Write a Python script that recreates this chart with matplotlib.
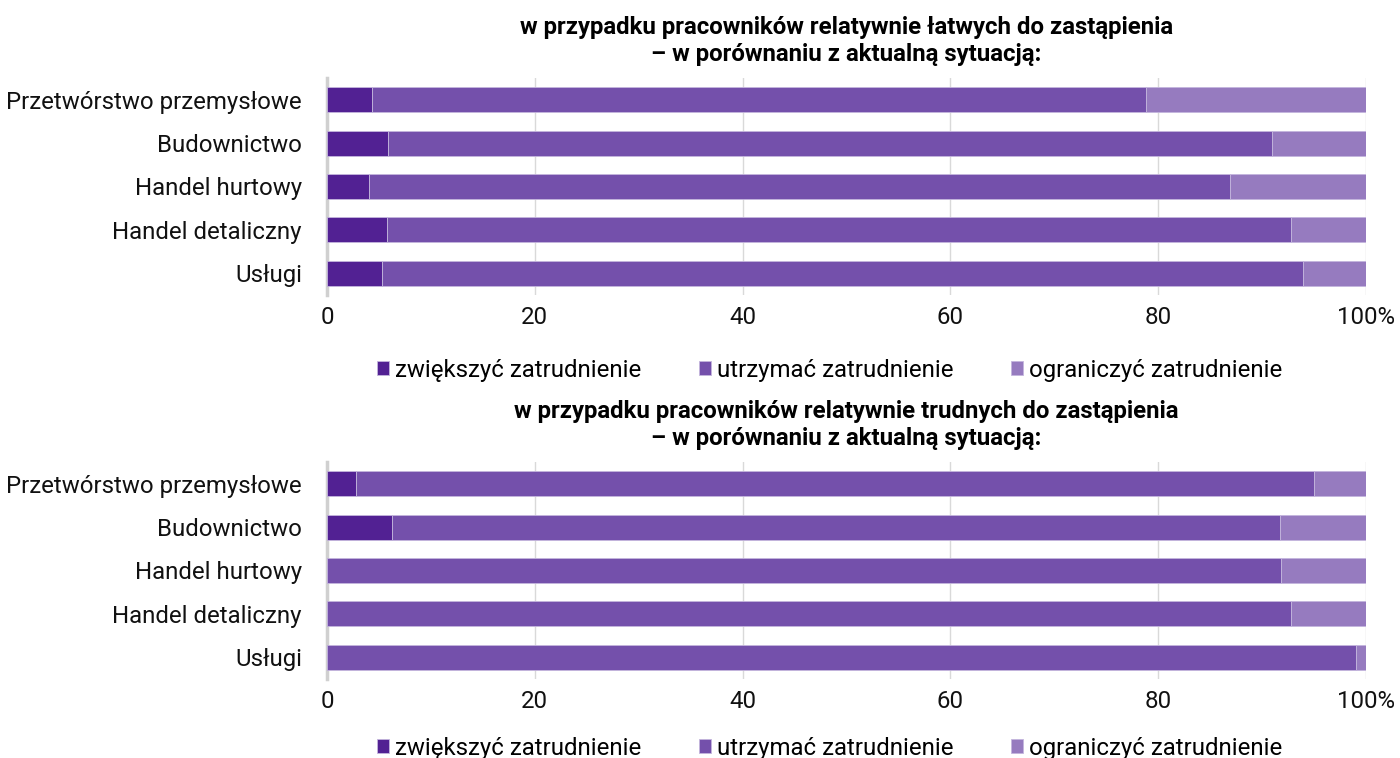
import matplotlib.pyplot as plt
import numpy as np

plt.rcParams['font.family'] = ['Roboto', 'DejaVu Sans']

# Dane
sektory = ['Przetwórstwo przemysłowe', 'Budownictwo', 'Handel hurtowy', 'Handel detaliczny', 'Usługi']
serie = ['zwiększyć zatrudnienie', 'utrzymać zatrudnienie', 'ograniczyć zatrudnienie']

# pracownicy latwi do zastapienia
latwi_zwiekszyc = [4.3, 5.9, 4.0, 5.8, 5.3]
latwi_utrzymac = [74.5, 85.1, 82.9, 87.0, 88.6]
latwi_ograniczyc = [21.2, 9.0, 13.1, 7.2, 6.1]

# pracownicy trudni do zastapienia
trudni_zwiekszyc = [2.8, 6.3, 0.0, 0.0, 0.0]
trudni_utrzymac = [92.2, 85.4, 91.8, 92.8, 99.0]
trudni_ograniczyc = [5.0, 8.3, 8.2, 7.2, 1.0]

tytuly = ['w przypadku pracowników relatywnie łatwych do zastąpienia\n– w porównaniu z aktualną sytuacją:',
          'w przypadku pracowników relatywnie trudnych do zastąpienia\n– w porównaniu z aktualną sytuacją:']
ticki = ['0', '20', '40', '60', '80', '100%']

kolory = ['#522193', '#7450ab', '#967bbf']

W, H = 1400, 758
fig = plt.figure(figsize=(W / 100, H / 100), dpi=100)


def wykres(top_px, bottom_px, dane, tytul, legenda_y):
    ax = fig.add_axes([327 / W, 1 - bottom_px / H, (1366 - 327) / W, (bottom_px - top_px) / H])
    y = np.arange(len(sektory))
    lewo = np.zeros(len(sektory))
    for wartosci, kolor, nazwa in zip(dane, kolory, serie):
        ax.barh(y, wartosci, left=lewo, height=0.58, color=kolor, label=nazwa,
                edgecolor='#c4b6dd', linewidth=0.6, zorder=3)
        lewo = lewo + np.array(wartosci)
    ax.set_ylim(len(sektory) - 0.5, -0.5)
    ax.set_xlim(0, 100)
    ax.set_yticks(y)
    ax.set_yticklabels(sektory, fontsize=17.3, color='#111111')
    ax.set_xticks([0, 20, 40, 60, 80, 100])
    ax.set_xticklabels(ticki, fontsize=17.3, color='#111111')
    ax.tick_params(length=0, pad=18, axis='y')
    ax.tick_params(length=0, pad=8, axis='x')
    ax.grid(axis='x', color='#d9d9d9', linewidth=1, zorder=0)
    for s in ['top', 'right', 'bottom']:
        ax.spines[s].set_visible(False)
    ax.spines['left'].set_color('#d0d0d0')
    ax.spines['left'].set_linewidth(2.5)
    ax.set_title(tytul, fontsize=17.3, fontweight='bold', pad=12, linespacing=1.25)
    ax.legend(loc='center', bbox_to_anchor=(0.4835, legenda_y), ncol=3, frameon=False,
              fontsize=17.3, handlelength=0.5, handleheight=0.5, handletextpad=0.25,
              columnspacing=2.4, borderaxespad=0, borderpad=0)
    return ax


wykres(78, 295, [latwi_zwiekszyc, latwi_utrzymac, latwi_ograniczyc], tytuly[0], -(370 - 295) / 217)
wykres(462, 679, [trudni_zwiekszyc, trudni_utrzymac, trudni_ograniczyc], tytuly[1], -(748 - 679) / 217)

plt.savefig('out.png', dpi=100)
plt.close()
